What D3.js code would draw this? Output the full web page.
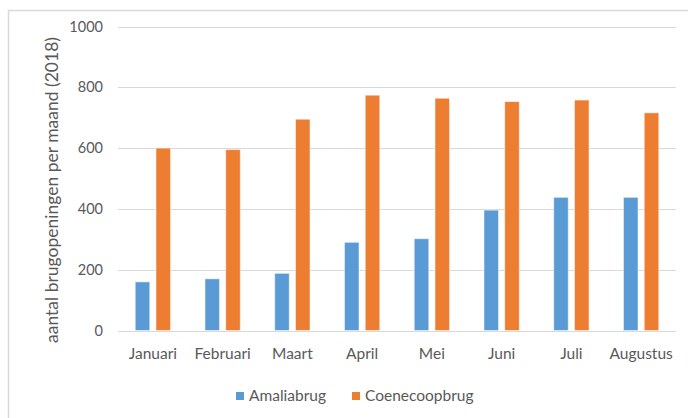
<!DOCTYPE html>
<meta charset="utf-8">
<style>
  body { margin: 0; background: #fff; }
  text { font-family: Lato, "Open Sans", sans-serif; fill: #595959; }
  .grid line { stroke: #d9d9d9; stroke-width: 1px; }
</style>
<svg width="688" height="418"></svg>
<script src="https://cdn.jsdelivr.net/npm/d3@7"></script>
<script>
  const months = ["Januari", "Februari", "Maart", "April", "Mei", "Juni", "Juli", "Augustus"];
  const amalia = [160, 170, 188, 290, 302, 396, 438, 438];
  const coenecoop = [600, 595, 695, 774, 764, 753, 758, 716];
  const seriesNames = ["Amaliabrug", "Coenecoopbrug"];
  const colors = ["#5b9bd5", "#ed7d31"];
  const yTicks = [0, 200, 400, 600, 800, 1000];

  const svg = d3.select("svg");

  // outer chart frame (only top and left are visible in the crop)
  svg.append("path")
    .attr("d", "M8.5,418 V10.5 H688")
    .attr("fill", "none")
    .attr("stroke", "#d9d9d9")
    .attr("stroke-width", 1.5);

  const plot = { left: 118, right: 676, top: 26.5, bottom: 330.5 };

  const x = d3.scaleBand().domain(months).range([plot.left, plot.right]);
  const y = d3.scaleLinear().domain([0, 1000]).range([plot.bottom, plot.top]);

  // gridlines
  svg.append("g").attr("class", "grid")
    .selectAll("line")
    .data(yTicks)
    .join("line")
    .attr("x1", plot.left).attr("x2", plot.right)
    .attr("y1", d => Math.round(y(d)) + 0.5)
    .attr("y2", d => Math.round(y(d)) + 0.5);

  // y tick labels
  svg.append("g")
    .selectAll("text")
    .data(yTicks)
    .join("text")
    .attr("x", 103)
    .attr("y", d => y(d))
    .attr("dy", "0.35em")
    .attr("text-anchor", "end")
    .style("font-size", "14.5px")
    .text(d => d);

  // y axis title
  svg.append("text")
    .attr("transform", "translate(52," + 190 + ") rotate(-90)")
    .attr("dy", "0.35em")
    .attr("text-anchor", "middle")
    .style("font-size", "17.5px")
    .text("aantal brugopeningen per maand (2018)");

  // bars
  const groupW = 35.3;
  const inner = d3.scaleBand().domain(seriesNames).range([0, groupW]).paddingInner(0.3);
  const rows = months.map((m, i) => ({ month: m, values: [amalia[i], coenecoop[i]] }));

  const groups = svg.append("g")
    .selectAll("g")
    .data(rows)
    .join("g")
    .attr("transform", d => "translate(" + (x(d.month) + (x.bandwidth() - groupW) / 2) + ",0)");

  groups.selectAll("rect")
    .data(d => d.values.map((v, j) => ({ name: seriesNames[j], value: v, color: colors[j] })))
    .join("rect")
    .attr("x", d => inner(d.name))
    .attr("y", d => y(d.value))
    .attr("width", inner.bandwidth())
    .attr("height", d => y(0) - y(d.value))
    .attr("fill", d => d.color)
    .attr("stroke", "#fff")
    .attr("stroke-opacity", 0.5)
    .attr("stroke-width", 1);

  // x labels
  svg.append("g")
    .selectAll("text")
    .data(months)
    .join("text")
    .attr("x", d => x(d) + x.bandwidth() / 2)
    .attr("y", 354)
    .attr("dy", "0.35em")
    .attr("text-anchor", "middle")
    .style("font-size", "15.5px")
    .text(d => d);

  // legend
  const legendX = [236, 352];
  const legend = svg.append("g")
    .selectAll("g")
    .data(seriesNames)
    .join("g")
    .attr("transform", (d, i) => "translate(" + legendX[i] + ",392)");

  legend.append("rect")
    .attr("width", 8).attr("height", 8)
    .attr("fill", (d, i) => colors[i]);

  legend.append("text")
    .attr("x", 13)
    .attr("y", 4)
    .attr("dy", "0.35em")
    .style("font-size", "15.5px")
    .text(d => d);
</script>
